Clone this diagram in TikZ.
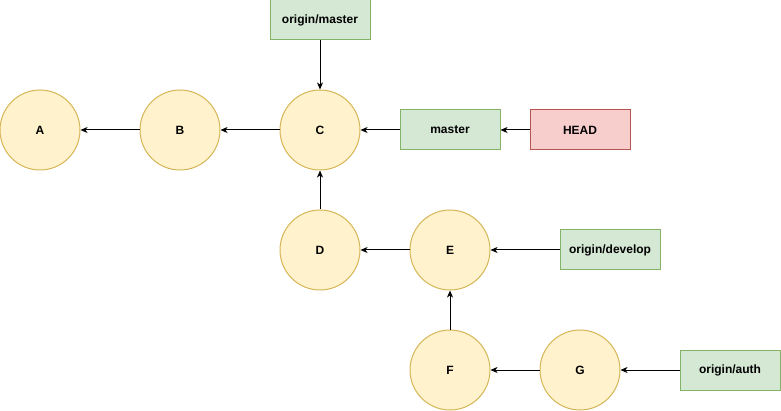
\documentclass[tikz,border=0pt]{standalone}
\usepackage{fontspec}
\setmainfont{Liberation Sans}
\usepackage{tikz}
\usetikzlibrary{positioning, arrows.meta}
\definecolor{commitfill}{HTML}{FFF2CC}
\definecolor{commitline}{HTML}{D6B656}
\definecolor{reffill}{HTML}{D5E8D4}
\definecolor{refline}{HTML}{82B366}
\definecolor{headfill}{HTML}{F8CECC}
\definecolor{headline}{HTML}{B85450}

\begin{document}
\begin{tikzpicture}[on grid, node distance=140pt, line width=1pt,
  font=\fontsize{12}{14}\selectfont\bfseries,
  main node/.style={circle,draw=commitline,fill=commitfill,minimum size=80pt,inner sep=0pt},
  ref node/.style={rectangle,draw=refline,fill=reffill,minimum width=100pt,minimum height=40pt,inner sep=0pt},
  head node/.style={ref node,draw=headline,fill=headfill}]

\useasboundingbox (0pt,0pt) rectangle (781pt,-411pt);

\node[main node] (A) at (40pt,-130pt) {A};
\node[main node] (B) [right=of A] {B};
\node[main node] (C) [right=of B] {C};
\node[main node] (D) [below=120pt of C] {D};
\node[main node] (E) [right=130pt of D] {E};
\node[main node] (F) [below=120pt of E] {F};
\node[main node] (G) [right=130pt of F] {G};

\node[ref node] (om) [above=110pt of C] {origin/master};
\node[ref node] (master) [right=130pt of C] {master};
\node[head node] (head) [right=130pt of master] {HEAD};
\node[ref node] (od) [right=160pt of E] {origin/develop};
\node[ref node] (oa) [right=150pt of G] {origin/auth};

\path[-{Stealth[length=7pt,width=6pt,inset=2pt]}]
(B) edge (A)
(C) edge (B)
(D) edge (C)
(E) edge (D)
(F) edge (E)
(G) edge (F)
(om) edge (C)
(master) edge (C)
(head) edge (master)
(od) edge (E)
(oa) edge (G)
;

\end{tikzpicture}
\end{document}
